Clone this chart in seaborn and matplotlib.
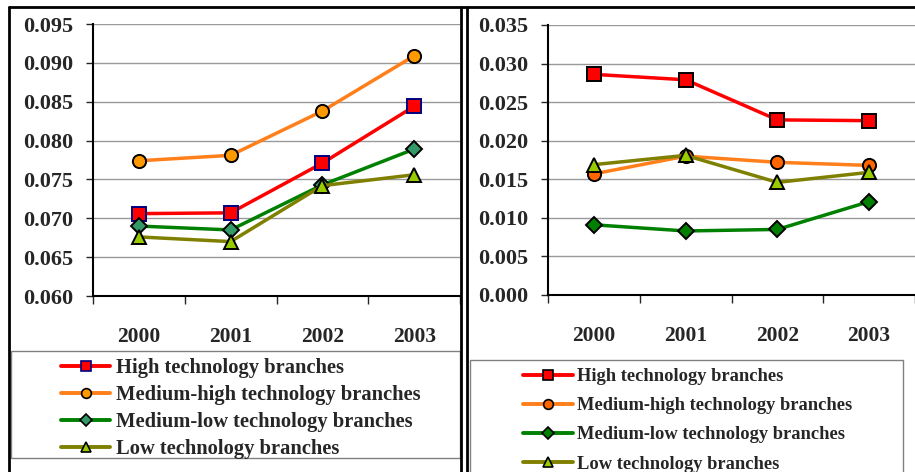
import pandas as pd
import matplotlib
matplotlib.use('Agg')
import matplotlib.pyplot as plt
import seaborn as sns
from matplotlib.patches import Rectangle
from matplotlib.lines import Line2D

# 데이터
years = [2000, 2001, 2002, 2003]
series_names = ['High technology branches',
                'Medium-high technology branches',
                'Medium-low technology branches',
                'Low technology branches']

left_high = [0.0706, 0.0707, 0.0771, 0.0844]
left_medhigh = [0.0774, 0.0781, 0.0838, 0.0909]
left_medlow = [0.0690, 0.0685, 0.0743, 0.0789]
left_low = [0.0676, 0.0670, 0.0742, 0.0756]

right_high = [0.0286, 0.0279, 0.0227, 0.0226]
right_medhigh = [0.0157, 0.0180, 0.0172, 0.0168]
right_medlow = [0.0091, 0.0083, 0.0085, 0.0121]
right_low = [0.0169, 0.0181, 0.0146, 0.0159]

left_yticks = [0.060, 0.065, 0.070, 0.075, 0.080, 0.085, 0.090, 0.095]
right_yticks = [0.000, 0.005, 0.010, 0.015, 0.020, 0.025, 0.030, 0.035]

# 스타일: (선색, 마커, 마커면색, 마커테두리색)
left_styles = [('#FF0000', 's', '#FF0000', '#000080'),
               ('#FF7F1A', 'o', '#FF9900', '#000000'),
               ('#008000', 'D', '#339966', '#000000'),
               ('#808000', '^', '#99CC00', '#000000')]
right_styles = [('#FF0000', 's', '#FF0000', '#000000'),
                ('#FF7F1A', 'o', '#FF6600', '#000000'),
                ('#008000', 'D', '#008000', '#000000'),
                ('#808000', '^', '#99CC00', '#000000')]

sns.set_style('white')
plt.rcParams['font.family'] = ['Liberation Serif', 'DejaVu Serif']
plt.rcParams['font.weight'] = 'bold'

W, H = 915, 472
fig = plt.figure(figsize=(W / 100, H / 100), dpi=100)


def fx(px):
    return px / W


def fy(py):
    return 1 - py / H


def draw_panel(rect, values, styles, yticks, ncat):
    ax = fig.add_axes(rect)
    for name, vals, (lc, mk, mfc, mec) in zip(series_names, values, styles):
        df = pd.DataFrame({'year': years, 'value': vals})
        sns.lineplot(data=df, x='year', y='value', ax=ax, color=lc, lw=2.5,
                     marker=mk, markersize=9.5 if mk != 'D' else 8.5,
                     markerfacecolor=mfc, markeredgecolor=mec, markeredgewidth=1.4,
                     label=name, legend=False)
    ax.set_xlim(1999.5, 1999.5 + ncat)
    ax.set_ylim(yticks[0], yticks[-1])
    ax.set_yticks(yticks)
    ax.set_yticklabels(['%.3f' % v for v in yticks], fontsize=16, fontweight='bold')
    ax.tick_params(axis='y', length=5, width=1, pad=9, left=True)
    ax.set_xticks([1999.5, 2000.5, 2001.5, 2002.5, 2003.5])
    ax.set_xticklabels([])
    ax.set_xticks(years, minor=True)
    ax.set_xticklabels([str(y) for y in years], minor=True, fontsize=15.5, fontweight='bold')
    ax.tick_params(axis='x', which='major', length=6, width=1, bottom=True, direction='out')
    ax.tick_params(axis='x', which='minor', length=0, pad=22)
    ax.grid(axis='y', color='#999999', lw=1)
    ax.set_axisbelow(True)
    ax.set_xlabel('')
    ax.set_ylabel('')
    for s in ['top', 'right']:
        ax.spines[s].set_visible(False)
    for s in ['left', 'bottom']:
        ax.spines[s].set_color('black')
        ax.spines[s].set_linewidth(1.5)
    return ax


axL = draw_panel([fx(93), fy(296), fx(367), (296 - 24) / H],
                 [left_high, left_medhigh, left_medlow, left_low],
                 left_styles, left_yticks, 367 / 92.5)
axR = draw_panel([fx(548), fy(295), fx(367), (295 - 25) / H],
                 [right_high, right_medhigh, right_medlow, right_low],
                 right_styles, right_yticks, 367 / 94.7)

# 범례
def make_handles(styles):
    hs = []
    for name, (lc, mk, mfc, mec) in zip(series_names, styles):
        hs.append(Line2D([], [], color=lc, lw=2.8, marker=mk,
                         markersize=7 if mk != 'D' else 6,
                         markerfacecolor=mfc, markeredgecolor=mec, markeredgewidth=1.2))
    return hs


fig.legend(make_handles(left_styles), series_names, loc='upper left',
           bbox_to_anchor=(fx(61), fy(358)), bbox_transform=fig.transFigure,
           frameon=False, borderpad=0, borderaxespad=0, handlelength=2.4,
           handletextpad=0.3, labelspacing=0.34,
           prop={'family': 'Liberation Serif', 'weight': 'bold', 'size': 14.8})
fig.legend(make_handles(right_styles), series_names, loc='upper left',
           bbox_to_anchor=(fx(523), fy(368)), bbox_transform=fig.transFigure,
           frameon=False, borderpad=0, borderaxespad=0, handlelength=2.7,
           handletextpad=0.22, labelspacing=0.66,
           prop={'family': 'Liberation Serif', 'weight': 'bold', 'size': 13.3})

# 패널 테두리와 범례 상자
fig.add_artist(Rectangle((fx(11), fy(458)), fx(460 - 11), (458 - 351) / H,
                         transform=fig.transFigure, fill=False, ec='#808080', lw=1))
fig.add_artist(Rectangle((fx(470), fy(480)), fx(903 - 470), (480 - 360) / H,
                         transform=fig.transFigure, fill=False, ec='#808080', lw=1))
fig.add_artist(Line2D([fx(9), fx(9)], [0, fy(7)], transform=fig.transFigure, color='black', lw=2))
fig.add_artist(Line2D([fx(9), fx(915)], [fy(7), fy(7)], transform=fig.transFigure, color='black', lw=2))
fig.add_artist(Line2D([fx(461), fx(461)], [0, fy(7)], transform=fig.transFigure, color='black', lw=2))
fig.add_artist(Line2D([fx(467), fx(467)], [0, fy(7)], transform=fig.transFigure, color='black', lw=2))

fig.savefig('out.png', dpi=100)
